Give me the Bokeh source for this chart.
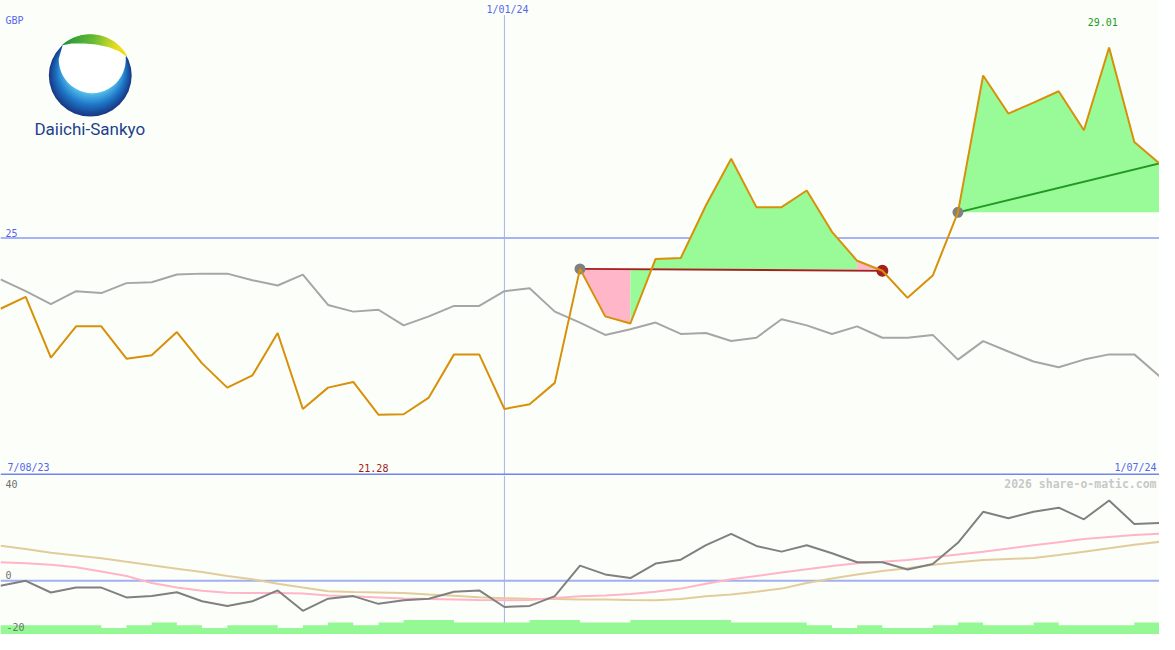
import numpy as np
from bokeh.plotting import figure
from bokeh.layouts import column
from bokeh.models import Range1d
from bokeh.core.properties import value
from bokeh.embed import file_html
from bokeh.resources import INLINE

# ---------------- data ----------------
week = list(range(47))                      # weekly points, 7/08/23 .. 1/07/24
date_labels = ["7/08/23", "1/01/24", "1/07/24"]
date_label_idx = [0, 20, 46]

price = [23.51, 23.76, 22.48, 23.14, 23.14, 22.46, 22.53, 23.02, 22.36, 21.85,
         22.11, 23.00, 21.40, 21.85, 21.97, 21.28, 21.29, 21.64, 22.55, 22.55,
         21.40, 21.50, 21.95, 24.35, 23.35, 23.20, 24.56, 24.58, 25.69, 26.67,
         25.65, 25.65, 26.00, 25.13, 24.52, 24.31, 23.74, 24.21, 25.54, 28.42,
         27.62, 27.85, 28.09, 27.27, 29.01, 27.02, 26.57]

compare = [24.13, 23.88, 23.61, 23.88, 23.84, 24.05, 24.07, 24.23, 24.25, 24.25,
           24.11, 24.00, 24.23, 23.59, 23.45, 23.49, 23.16, 23.35, 23.57, 23.57,
           23.88, 23.94, 23.45, 23.22, 22.96, 23.08, 23.22, 22.98, 23.00, 22.83,
           22.90, 23.29, 23.16, 22.98, 23.14, 22.90, 22.90, 22.96, 22.44, 22.83,
           22.61, 22.40, 22.28, 22.44, 22.55, 22.55, 22.09]

momentum = [-1.9, 0.0, -4.5, -2.6, -2.6, -6.4, -5.9, -4.4, -7.9, -9.7,
            -7.9, -3.7, -11.6, -6.9, -5.9, -8.9, -7.5, -6.9, -4.2, -3.7,
            -10.1, -9.7, -5.9, 5.9, 2.5, 1.1, 6.7, 8.2, 13.8, 18.2,
            13.5, 11.3, 13.8, 10.7, 7.2, 7.2, 4.4, 6.5, 14.7, 26.7,
            24.2, 26.7, 28.3, 23.8, 31.1, 22.0, 22.4]

avg_fast = [7.2, 6.8, 6.2, 5.3, 3.6, 1.9, -0.8, -2.6, -3.8, -4.6,
            -4.7, -4.7, -4.9, -5.7, -6.0, -6.4, -6.8, -7.0, -7.2, -7.4,
            -7.5, -7.4, -6.6, -6.0, -5.7, -5.1, -4.2, -3.0, -1.1, 0.6,
            1.9, 3.2, 4.5, 5.7, 6.8, 7.4, 8.1, 9.1, 10.2, 11.3,
            12.5, 13.8, 14.9, 16.2, 17.0, 17.7, 18.2]

avg_slow = [13.6, 12.3, 10.9, 9.8, 8.7, 7.4, 6.0, 4.7, 3.4, 1.9,
            0.6, -1.1, -2.6, -4.0, -4.3, -4.5, -4.7, -5.3, -5.8, -6.3,
            -6.7, -6.9, -7.0, -7.2, -7.2, -7.4, -7.5, -7.0, -6.0, -5.3,
            -4.2, -3.0, -0.8, 0.9, 2.5, 3.8, 4.9, 6.2, 7.2, 8.1,
            8.5, 8.8, 10.0, 11.3, 12.6, 14.0, 15.1]

volume = [3.55, 3.55, 3.55, 3.55, 2.55, 3.55, 4.65, 3.55, 2.55, 3.55,
          3.55, 2.55, 3.55, 4.65, 3.55, 4.65, 5.65, 5.65, 4.65, 4.65,
          4.65, 5.65, 5.65, 4.65, 4.65, 5.65, 5.65, 5.65, 5.65, 4.65,
          4.65, 4.65, 3.55, 2.55, 3.55, 2.55, 2.55, 3.55, 4.65, 3.55,
          3.55, 4.65, 3.55, 3.55, 3.55, 4.65]

trade1_entry, trade1_exit = 23, 35
trade1_entry_price, trade1_exit_price = 24.35, 24.31
trade2_entry = 38
trade2_entry_price = 25.54
ref_level = 25
price_max, price_min = 29.01, 21.28

# ---------------- styling ----------------
BG = "#fcfff9"
BLUE_TXT = "#5566ee"
FONT = value("DejaVu Sans Mono")
W_TOTAL = 1159
H_MAIN, H_LOW = 475, 159
N = len(week) - 1

# pixel helpers (reference pixel space 1175 x 487 for main panel)
def X(px):
    return px * N / 1175.0

def Y(py):
    return 30 - py / 48.7

def WD(px):
    return px * N / 1175.0

def HD(px):
    return px / 48.7

# ---------------- main panel ----------------
p = figure(width=W_TOTAL, height=H_MAIN, x_range=Range1d(0, N), y_range=Range1d(20, 30),
           output_backend="svg", toolbar_location=None,
           x_axis_location=None, y_axis_location=None, min_border=0)
p.background_fill_color = BG
p.border_fill_color = BG
p.outline_line_color = None
p.grid.grid_line_color = None

# logo: blue sphere built from layered discs
c_out = np.array([26, 58, 136]); c_mid = np.array([30, 120, 200]); c_in = np.array([96, 206, 244])
nl = 16
for k in range(nl):
    t = k / (nl - 1)
    cx = 91 + 2.0 * t
    cy = 77 - 10.0 * t
    r = 42 - 15.0 * t
    if t < 0.45:
        col = c_out + (c_mid - c_out) * (t / 0.45)
    else:
        col = c_mid + (c_in - c_mid) * ((t - 0.45) / 0.55)
    p.ellipse(x=X(cx), y=Y(cy), width=WD(2 * r), height=HD(2 * r),
              fill_color="#%02x%02x%02x" % tuple(int(v) for v in col), line_color=None)

bx = [59, 63, 72, 85, 97, 110, 120, 127]
by = [60, 46, 44, 44, 45, 48, 52, 57]
cap_l, cap_r, cap_t, cap_b, cap_c = [], [], [], [], []
g0 = np.array([30, 150, 64]); g1 = np.array([110, 190, 46]); g2 = np.array([245, 228, 28])
for xp in range(63, 129):
    d = 42 ** 2 - (xp - 91) ** 2
    if d <= 0:
        continue
    top = 77 - np.sqrt(d)
    bot = float(np.interp(xp, bx, by))
    if bot <= top:
        continue
    t = (xp - 63) / 65.0
    if t < 0.5:
        c = g0 + (g1 - g0) * (t / 0.5)
    else:
        c = g1 + (g2 - g1) * min(1, (t - 0.5) / 0.35)
    hexc = "#%02x%02x%02x" % tuple(int(v) for v in c)
    cap_l.append(X(xp - 0.5)); cap_r.append(X(xp + 0.5))
    cap_t.append(Y(top)); cap_b.append(Y(bot + 0.5))
    cap_c.append(hexc)
p.quad(left=cap_l, right=cap_r, top=cap_t, bottom=cap_b, fill_color=cap_c,
       line_color=cap_c, line_width=0.6)

ang = np.linspace(0, np.pi, 40)
wx = list(93 + 34 * np.cos(ang)) + bx
wy = list(60 + 35 * np.sin(ang)) + by
p.patch(x=[X(v) for v in wx], y=[Y(v) for v in wy], fill_color="#ffffff", line_color=None)
p.text(x=[X(90.5)], y=[Y(132)], text=["Daiichi-Sankyo"], text_font=value("Roboto"),
       text_font_size="17px", text_color="#1d3f8e", text_align="center", text_baseline="middle")

# reference lines
p.line(x=[0, N], y=[ref_level, ref_level], line_color="#a4b4f4", line_width=2)
p.segment(x0=[date_label_idx[1]], y0=[Y(15)], x1=[date_label_idx[1]], y1=[20],
          line_color="#a8b0ec", line_width=1)
p.line(x=[0, N], y=[Y(486), Y(486)], line_color="#7384f0", line_width=2)

# trade fills (runs of same colour merged into one polygon)
GREEN_F, PINK_F = "#98fb98", "#ffb6c8"
fx, fy, fc = [], [], []
for a, b, base in [(trade1_entry, trade1_exit, trade1_entry_price),
                   (trade2_entry, N, trade2_entry_price)]:
    cols = [GREEN_F if price[i + 1] >= base else PINK_F for i in range(a, b)]
    s = a
    while s < b:
        e = s
        while e + 1 < b and cols[e + 1 - a] == cols[s - a]:
            e += 1
        xs = [week[s]] + week[s:e + 2] + [week[e + 1]]
        ys = [base] + price[s:e + 2] + [base]
        fx.append(xs); fy.append(ys); fc.append(cols[s - a])
        s = e + 1
p.patches(xs=fx, ys=fy, fill_color=fc, line_color=None)

# comparison line
p.line(x=week, y=compare, line_color="#a6a6a6", line_width=2)

# trade lines
p.line(x=[trade1_entry, trade1_exit], y=[trade1_entry_price, trade1_exit_price],
       line_color="#a52020", line_width=2)
p.line(x=[trade2_entry, N], y=[trade2_entry_price, price[N]],
       line_color="#229922", line_width=2)

# markers
p.scatter(x=[trade1_entry, trade2_entry], y=[trade1_entry_price, trade2_entry_price],
          size=11, fill_color="#808080", line_color=None)
p.scatter(x=[trade1_exit], y=[trade1_exit_price], size=12, fill_color="#a52020", line_color=None)

# price line
p.line(x=week, y=price, line_color="#d8900a", line_width=2)

# texts
def label(fig, x, y, s, color, align, size="10px", style="normal"):
    fig.text(x=[x], y=[y], text=[s], text_font=FONT, text_font_size=size,
             text_font_style=style, text_color=color, text_align=align,
             text_baseline="middle")

label(p, X(5), Y(20), "GBP", BLUE_TXT, "left")
label(p, X(5), Y(238), str(ref_level), BLUE_TXT, "left")
label(p, X(514), Y(9), date_labels[1], BLUE_TXT, "center")
label(p, X(1117.5), Y(22), "%.2f" % price_max, "#229922", "center")
label(p, X(7), Y(479), date_labels[0], BLUE_TXT, "left")
label(p, X(378), Y(479), "%.2f" % price_min, "#a01818", "center")
label(p, X(1172), Y(479), date_labels[2], BLUE_TXT, "right")

# ---------------- lower panel ----------------
LOW_B, LOW_T = -20.75, 40.75
q = figure(width=W_TOTAL, height=H_LOW, x_range=p.x_range, y_range=Range1d(LOW_B, LOW_T),
           output_backend="svg", toolbar_location=None,
           x_axis_location=None, y_axis_location=None, min_border=0)
q.background_fill_color = BG
q.border_fill_color = BG
q.outline_line_color = None
q.grid.grid_line_color = None

def LY(py):
    return (595 - py) / 2.65

q.line(x=[0, N], y=[0, 0], line_color="#a0b0f0", line_width=2)
q.segment(x0=[date_label_idx[1]], y0=[LOW_B], x1=[date_label_idx[1]], y1=[LOW_T],
          line_color="#a8b0ec", line_width=1)
vol_top = [LOW_B + v for v in volume]
q.varea_step(x=week, y1=[LOW_B] * len(week), y2=vol_top + [vol_top[-1]],
             step_mode="after", fill_color="#94f894")
q.line(x=week, y=avg_slow, line_color="#e2cc9c", line_width=2)
q.line(x=week, y=avg_fast, line_color="#ffb4c8", line_width=2)
q.line(x=week, y=momentum, line_color="#808080", line_width=2)

label(q, X(5), LY(496), "40", "#707070", "left")
label(q, X(5), LY(589), "0", "#707070", "left")
label(q, X(6), LY(642), "-20", "#707070", "left")
label(q, X(1172), LY(496), "2026 share-o-matic.com", "#c8c8c8", "right", "11.5px", "bold")

layout = column(p, q, spacing=0)
open("out.html", "w").write(file_html(layout, INLINE))
